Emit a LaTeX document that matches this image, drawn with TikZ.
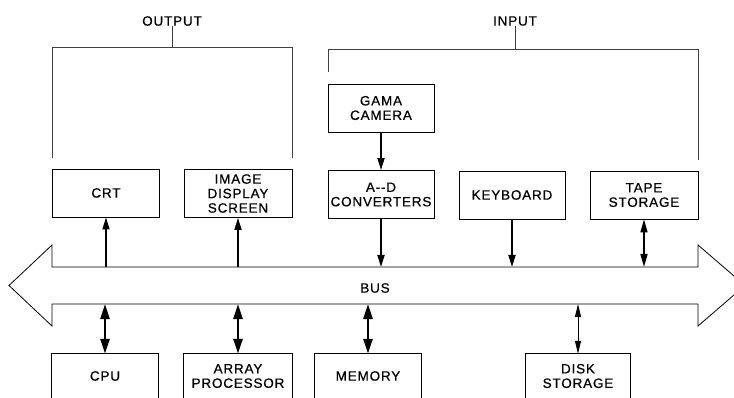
\documentclass[tikz,border=0pt]{standalone}
\usepackage{fontspec}
\newfontfamily\lab[LetterSpace=6,FakeBold=0.6]{Liberation Sans}
\usetikzlibrary{arrows.meta}
\tikzset{txt/.style={font=\lab\fontsize{13.5}{14.5}\selectfont,align=center,inner sep=0pt},
box/.style={txt,draw,line width=.8pt,minimum width=106pt,minimum height=48pt},
obox/.style={txt,minimum width=106pt,minimum height=44pt},
ar/.style={-{Triangle[width=7pt,length=12pt]},line width=1.7pt},
dar/.style={{Triangle[width=7pt,length=13pt]}-{Triangle[width=7pt,length=13pt]},line width=1.5pt},
fat/.style={{Triangle[width=9pt,length=15pt]}-{Triangle[width=9pt,length=15pt]},line width=2.6pt},
thn/.style={{Triangle[width=6pt,length=13pt]}-{Triangle[width=6pt,length=13pt]},line width=1pt},
brk/.style={line width=.7pt,black!75}}

\begin{document}
\begin{tikzpicture}[x=1pt,y=-1pt]
\useasboundingbox(0,0)rectangle(734,398);
% output / input groups
\node[txt](out)at(172,21){OUTPUT};\node[txt](inp)at(515,21){INPUT};
\coordinate(ob)at(172,47.5);\coordinate(ib)at(515,49);
\draw[brk](52,158)--(52,47.5)--(292,47.5)--(292,158);\draw[brk](out.south)--(ob);
\draw[brk](328,72)--(328,49)--(698,49)--(698,160);\draw[brk](inp.south)--(ib);
% boxes above the bus
\node[box](gama)at(381,108){GAMA\\CAMERA};
\node[box,minimum width=107pt](crt)at(106,193){CRT};
\node[box,minimum width=108pt](img)at(238,193.5){IMAGE\\DISPLAY\\SCREEN};
\node[box](adc)at(381,194.5){A--D\\CONVERTERS};
\node[box](kbd)at(512,195){KEYBOARD};
\node[box,minimum width=108pt](tape)at(644,195){TAPE\\STORAGE};
% bus
\coordinate(bt)at(0,267);\coordinate(bb)at(0,304);
\draw[line width=.8pt](52,267)--(52,245)--(9,285.5)--(52,326)--(52,304)--(698,304)--(698,326)--(745,285.5)--(698,245)--(698,267)--cycle;
\node[txt](bus)at(375,288){BUS};
% boxes below the bus (cut by the page edge)
\node[obox](cpu)at(105,376){CPU};
\node[obox,minimum width=108pt](arr)at(238,376){ARRAY\\PROCESSOR};
\node[obox](mem)at(368,376){MEMORY};
\node[obox,minimum width=104pt](dsk)at(578,376){DISK\\STORAGE};
\foreach\n in{cpu,arr,mem,dsk}\draw[line width=.8pt](\n.south west)--(\n.north west)--(\n.north east)--(\n.south east);
% connectors
\draw[ar](crt.south|-bt)--(crt.south);\draw[ar](img.south|-bt)--(img.south);
\draw[ar](gama)--(adc);\draw[ar](adc.south)--(adc.south|-bt);\draw[ar](kbd.south)--(kbd.south|-bt);
\draw[dar](tape.south)--(tape.south|-bt);
\draw[fat](cpu.north|-bb)--(cpu.north);\draw[fat](arr.north|-bb)--(arr.north);\draw[fat](mem.north|-bb)--(mem.north);
\draw[thn](dsk.north|-bb)--(dsk.north);
\end{tikzpicture}
\end{document}
